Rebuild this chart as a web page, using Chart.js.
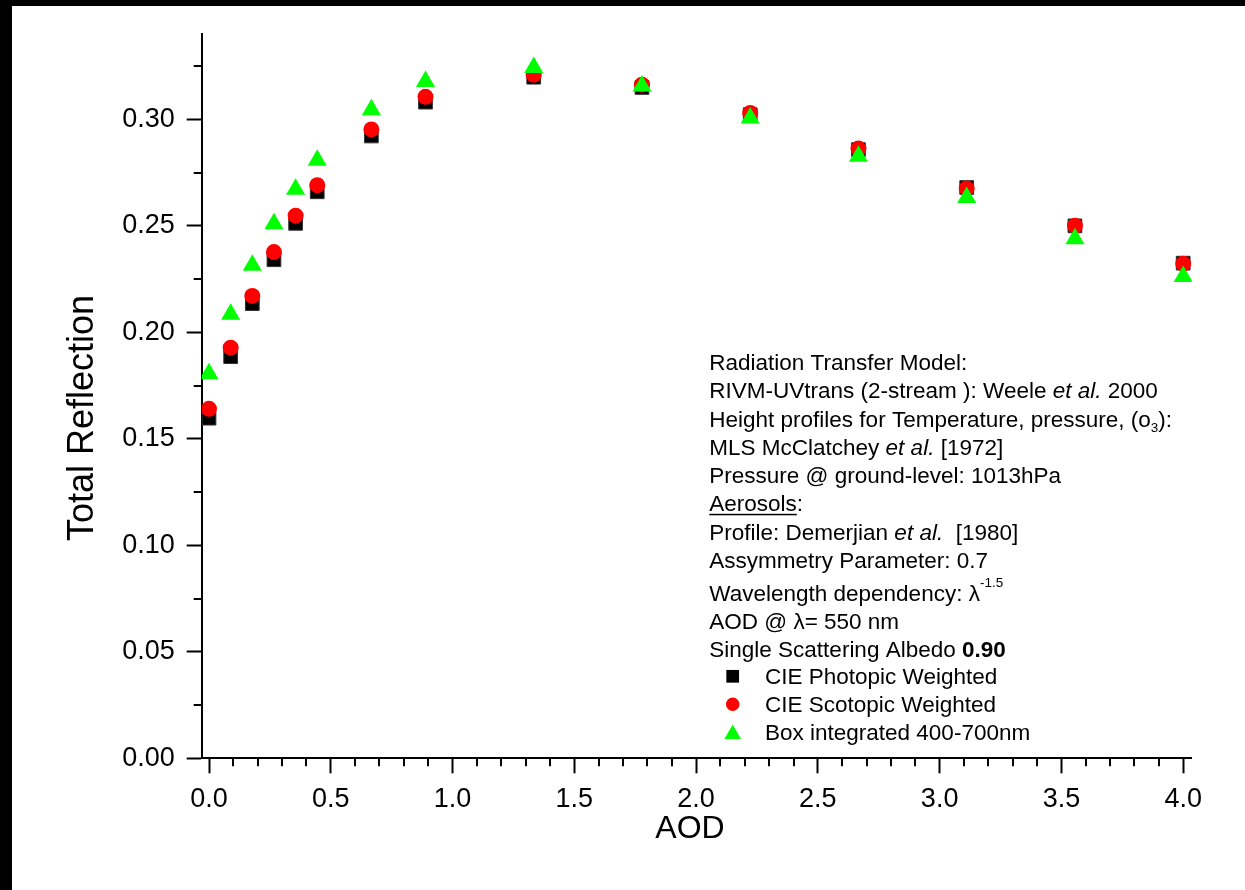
<!DOCTYPE html>
<html><head><meta charset="utf-8">
<script src="https://cdn.jsdelivr.net/npm/chart.js@4.4.1/dist/chart.umd.min.js"></script>
<style>
html,body{margin:0;padding:0;background:#000;width:1245px;height:890px;overflow:hidden}
#wrap{position:absolute;left:12px;top:6px;width:1233px;height:884px;background:#fff}
canvas{display:block}
</style></head><body><div id="wrap"><canvas id="c" width="1233" height="884"></canvas></div>
<script>
// ---------- data ----------
const aod       = [0, 0.0889, 0.1778, 0.2667, 0.3556, 0.4444, 0.6667, 0.8889, 1.3333, 1.7778, 2.2222, 2.6667, 3.1111, 3.5556, 4.0];
const photopic  = [0.1597, 0.1886, 0.2135, 0.2341, 0.2512, 0.2660, 0.2922, 0.3081, 0.3198, 0.3150, 0.3022, 0.2858, 0.2680, 0.2500, 0.2325];
const scotopic  = [0.1641, 0.1928, 0.2171, 0.2377, 0.2548, 0.2691, 0.2953, 0.3106, 0.3210, 0.3163, 0.3030, 0.2863, 0.2676, 0.2501, 0.2322];
const boxInt    = [0.1806, 0.2085, 0.2315, 0.2510, 0.2672, 0.2808, 0.3045, 0.3178, 0.3244, 0.3157, 0.3007, 0.2827, 0.2633, 0.2440, 0.2262];
const seriesNames = ['CIE Photopic Weighted', 'CIE Scotopic Weighted', 'Box integrated 400-700nm'];
const xMajorTicks = [0, 0.5, 1.0, 1.5, 2.0, 2.5, 3.0, 3.5, 4.0];
const yMajorTicks = [0, 0.05, 0.10, 0.15, 0.20, 0.25, 0.30];
const xTitle = 'AOD';
const yTitle = 'Total Reflection';
// annotation text: segments [text, style]
const noteLines = [
  [['Radiation Transfer Model:', '']],
  [['RIVM-UVtrans (2-stream ): Weele ', ''], ['et al.', 'i'], [' 2000', '']],
  [['Height profiles for Temperature, pressure, (o', ''], ['3', 'sub'], ['):', '']],
  [['MLS McClatchey ', ''], ['et al.', 'i'], [' [1972]', '']],
  [['Pressure @ ground-level: 1013hPa', '']],
  [['Aerosols', 'u'], [':', '']],
  [['Profile: Demerjian ', ''], ['et al.', 'i'], ['  [1980]', '']],
  [['Assymmetry Parameter: 0.7', '']],
  [['Wavelength dependency: \u03BB', ''], ['-1.5', 'sup']],
  [['AOD @ \u03BB= 550 nm', '']],
  [['Single Scattering Albedo ', ''], ['0.90', 'b']]
];

// ---------- layout / style ----------
const FONT = '"Liberation Sans", Arial, Helvetica, sans-serif';
const OFFX = 12, OFFY = 6;  // page offset of the white canvas
const noteX = 709.3 - OFFX;
const noteBaselines = [370, 398.2, 426.5, 454.8, 483, 511.3, 539.5, 567.8, 600.7, 629, 657].map(v => v - OFFY);
const legendBaselines = [684, 712, 739.5].map(v => v - OFFY);
const legendMarkerX = 732.7 - OFFX;
const legendTextX = 765 - OFFX;
const NOTE_SIZE = 22.5, SMALL_SIZE = 13.5;

const pts = (ys) => aod.map((x, i) => ({x: x, y: ys[i]}));

const minorTicks = {
  id: 'minorTicks',
  afterDraw(chart) {
    const ctx = chart.ctx, xs = chart.scales.x, ys = chart.scales.y, ca = chart.chartArea;
    ctx.save();
    ctx.strokeStyle = '#000'; ctx.lineWidth = 2;
    for (let k = 1; k < 40; k++) {
      if (k % 5 === 0) continue;
      const px = Math.round(xs.getPixelForValue(k / 10));
      ctx.beginPath(); ctx.moveTo(px, ca.bottom); ctx.lineTo(px, ca.bottom + 8); ctx.stroke();
    }
    for (let k = 1; k < 14; k += 2) {
      const py = Math.round(ys.getPixelForValue(k * 0.025));
      ctx.beginPath(); ctx.moveTo(ca.left, py); ctx.lineTo(ca.left - 8, py); ctx.stroke();
    }
    ctx.restore();
  }
};

const texts = {
  id: 'texts',
  afterDraw(chart) {
    const ctx = chart.ctx;
    ctx.save();
    ctx.fillStyle = '#000';
    // axis titles
    ctx.font = '36px ' + FONT;
    ctx.textAlign = 'center'; ctx.textBaseline = 'alphabetic';
    ctx.save(); ctx.translate(93 - OFFX, 418 - OFFY); ctx.rotate(-Math.PI / 2);
    ctx.fillText(yTitle, 0, 0); ctx.restore();
    ctx.font = '32px ' + FONT;
    ctx.fillText(xTitle, 690 - OFFX, 838 - OFFY);
    // note block
    ctx.textAlign = 'left';
    noteLines.forEach((segs, li) => {
      let x = noteX; const base = noteBaselines[li];
      segs.forEach(([t, st]) => {
        let size = NOTE_SIZE, dy = 0, style = '';
        if (st === 'i') style = 'italic ';
        if (st === 'b') style = 'bold ';
        if (st === 'sup') { size = SMALL_SIZE; dy = -13.5; }
        if (st === 'sub') { size = SMALL_SIZE; dy = 5; }
        ctx.font = style + size + 'px ' + FONT;
        ctx.fillText(t, x, base + dy);
        const w = ctx.measureText(t).width;
        if (st === 'u') { ctx.fillRect(x, base + 2.5, w, 1.5); }
        x += w;
      });
    });
    // legend
    const mk = [{r: 9, y: 0}, {r: 6.7, y: 0}, {r: 9.6, y: 2.4}];
    chart.data.datasets.forEach((ds, i) => {
      const b = legendBaselines[i];
      ctx.fillStyle = ds.backgroundColor;
      ctx.strokeStyle = ds.borderColor;
      Chart.helpers.drawPoint(ctx, {pointStyle: ds.pointStyle, radius: mk[i].r, rotation: 0, borderWidth: 0}, legendMarkerX, b - 7.7 + mk[i].y);
      ctx.fillStyle = '#000';
      ctx.font = NOTE_SIZE + 'px ' + FONT;
      ctx.fillText(ds.label, legendTextX, b);
    });
    ctx.restore();
  }
};

new Chart(document.getElementById('c'), {
  type: 'scatter',
  data: {
    datasets: [
      {label: seriesNames[0], data: pts(photopic), pointStyle: 'rect', pointRadius: 9.7, backgroundColor: '#000000', borderColor: '#333333', borderWidth: 1, order: 3},
      {label: seriesNames[1], data: pts(scotopic), pointStyle: 'circle', pointRadius: 8, backgroundColor: '#ff0000', borderColor: '#ff0000', borderWidth: 0, order: 2},
      {label: seriesNames[2], data: pts(boxInt), pointStyle: 'triangle', pointRadius: 11, backgroundColor: '#00ff00', borderColor: '#00ff00', borderWidth: 0, order: 1}
    ]
  },
  options: {
    responsive: false,
    animation: false,
    events: [],
    layout: {padding: {left: 0, top: 24, right: 53.3, bottom: 0}},
    plugins: {legend: {display: false}, tooltip: {enabled: false}, title: {display: false}},
    scales: {
      x: {
        type: 'linear', position: 'bottom', min: -0.03, max: 4.035,
        afterBuildTicks: s => { s.ticks = xMajorTicks.map(v => ({value: v})); },
        afterFit: s => { s.height = 131.7; },
        border: {display: true, color: '#000', width: 2},
        grid: {display: true, drawOnChartArea: false, drawTicks: true, tickLength: 15, tickWidth: 2, tickColor: '#000', color: '#000'},
        ticks: {color: '#000', font: {family: FONT, size: 27}, padding: 10, maxRotation: 0, autoSkip: false, callback: v => Number(v).toFixed(1)}
      },
      y: {
        type: 'linear', position: 'left', min: 0, max: 0.34,
        afterBuildTicks: s => { s.ticks = yMajorTicks.map(v => ({value: v})); },
        afterFit: s => { s.width = 189.7; },
        border: {display: true, color: '#000', width: 2},
        grid: {display: true, drawOnChartArea: false, drawTicks: true, tickLength: 15, tickWidth: 2, tickColor: '#000', color: '#000'},
        ticks: {color: '#000', font: {family: FONT, size: 27}, padding: 12, autoSkip: false, callback: v => Number(v).toFixed(2)}
      }
    }
  },
  plugins: [minorTicks, texts]
});
</script>
</body></html>
